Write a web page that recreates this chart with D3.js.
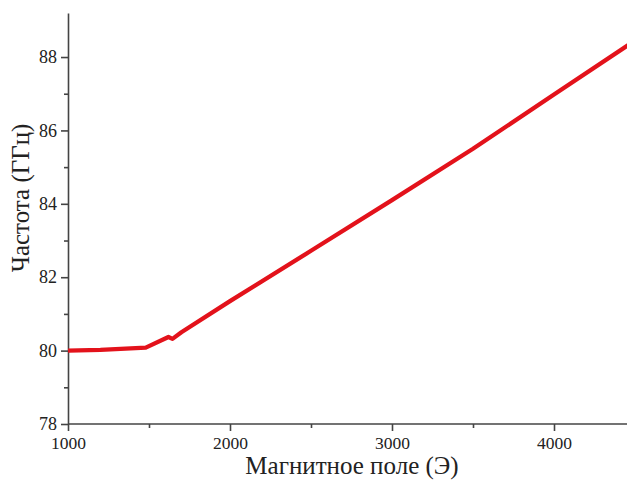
<!DOCTYPE html>
<html>
<head>
<meta charset="utf-8">
<script src="https://cdn.jsdelivr.net/npm/d3@7"></script>
<style>
body{margin:0;background:#fff;}
svg{display:block;}
text{font-family:"Liberation Serif","Times New Roman",serif;fill:#222;}
</style>
</head>
<body>
<svg id="chart" width="627" height="482"></svg>
<script>
const fieldValues = [1000, 1200, 1480, 1620, 1645, 1700, 2000, 2500, 3000, 3500, 4000, 4500];
const freqValues  = [80.0, 80.02, 80.08, 80.37, 80.32, 80.5, 81.35, 82.72, 84.1, 85.5, 86.98, 88.45];
const xTickValues = [1000, 2000, 3000, 4000];
const xMinorTicks = [1500, 2500, 3500];
const yTickValues = [78, 80, 82, 84, 86, 88];
const yMinorTicks = [79, 81, 83, 85, 87];
const xTitle = "Магнитное поле (Э)";
const yTitle = "Частота (ГГц)";

const serif = "'Liberation Serif','Times New Roman',serif";
const svg = d3.select("#chart");
const mLeft = 68, mBottom = 424, mTop = 13;
const x = d3.scaleLinear().domain([1000, 2000]).range([mLeft, mLeft + 162]);
const y = d3.scaleLinear().domain([78, 89.2]).range([mBottom, mTop]);

const xAxis = svg.append("g").attr("transform", `translate(0,${mBottom})`)
  .call(d3.axisBottom(x).tickValues(xTickValues).tickFormat(d3.format("d")).tickSize(7).tickSizeOuter(0).tickPadding(6));
xAxis.select(".domain").attr("d", `M${mLeft},0H627`);
const xMin = svg.append("g").attr("transform", `translate(0,${mBottom})`)
  .call(d3.axisBottom(x).tickValues(xMinorTicks).tickFormat("").tickSize(4).tickSizeOuter(0));
xMin.select(".domain").remove();

const yAxis = svg.append("g").attr("transform", `translate(${mLeft},0)`)
  .call(d3.axisLeft(y).tickValues(yTickValues).tickFormat(d3.format("d")).tickSize(7).tickSizeOuter(0).tickPadding(4));
const yMin = svg.append("g").attr("transform", `translate(${mLeft},0)`)
  .call(d3.axisLeft(y).tickValues(yMinorTicks).tickFormat("").tickSize(4).tickSizeOuter(0));
yMin.select(".domain").remove();

[xAxis, xMin, yAxis, yMin].forEach(g => g.attr("font-family", null));
xAxis.selectAll(".tick text").style("font-family", serif).style("font-size", "17.5px");
yAxis.selectAll(".tick text").style("font-family", serif).style("font-size", "18px");
svg.selectAll(".domain, .tick line").attr("stroke", "#444").attr("stroke-width", 1.6);
svg.selectAll(".tick text").attr("fill", "#222");

const clipId = "plotclip";
svg.append("clipPath").attr("id", clipId).append("rect")
  .attr("x", mLeft).attr("y", 0).attr("width", 627 - mLeft).attr("height", mBottom);

const data = fieldValues.map((f, i) => [f, freqValues[i]]);
svg.append("path")
  .datum(data)
  .attr("clip-path", `url(#${clipId})`)
  .attr("fill", "none")
  .attr("stroke", "#e3121b")
  .attr("stroke-width", 4.3)
  .attr("stroke-linejoin", "round")
  .attr("d", d3.line().x(d => x(d[0])).y(d => y(d[1])));

svg.append("text").attr("x", 352).attr("y", 474).attr("text-anchor", "middle")
  .style("font-family", serif).style("font-size", "25px").text(xTitle);
svg.append("text").attr("transform", "translate(29,198) rotate(-90)").attr("text-anchor", "middle")
  .style("font-family", serif).style("font-size", "25px").text(yTitle);
</script>
</body>
</html>
